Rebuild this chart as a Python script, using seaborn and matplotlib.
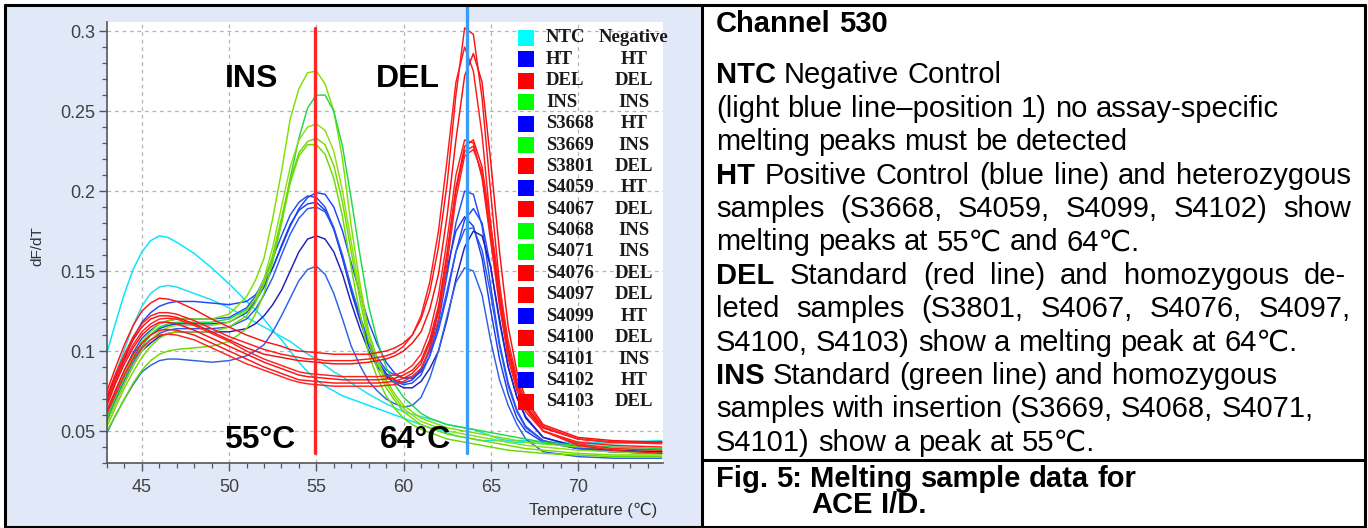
import matplotlib
matplotlib.use("Agg")
import matplotlib.pyplot as plt
import seaborn as sns
import pandas as pd
from matplotlib.patches import Rectangle
from matplotlib.lines import Line2D
from matplotlib.ticker import MultipleLocator, FormatStrFormatter

# ---------------- data ----------------
temperature = [43, 43.5, 44, 44.5, 45, 45.5, 46, 46.5, 47,
               48, 49, 50, 51, 51.5, 52, 52.5,
               53, 53.5, 54, 54.5, 55, 55.5, 56, 56.5, 57,
               57.5, 58, 58.5, 59, 59.5, 60, 60.5, 61, 61.5, 62,
               62.5, 63, 63.5, 64, 64.5, 65, 65.5, 66, 66.5,
               67, 68, 70, 72, 74.8]

ntc = [0.099, 0.118, 0.136, 0.151, 0.162, 0.169, 0.172, 0.171, 0.168,
       0.161, 0.152, 0.142, 0.131, 0.126, 0.120, 0.113,
       0.107, 0.100, 0.093, 0.087, 0.082, 0.078, 0.075, 0.072, 0.070,
       0.068, 0.066, 0.064, 0.062, 0.060, 0.058, 0.056, 0.054, 0.052, 0.051,
       0.049, 0.047, 0.046, 0.045, 0.044, 0.044, 0.044, 0.043, 0.043,
       0.043, 0.042, 0.042, 0.042, 0.043]
ntc_rep = [0.070, 0.086, 0.101, 0.116, 0.128, 0.136, 0.140, 0.141, 0.140,
           0.136, 0.132, 0.127, 0.121, 0.118, 0.115, 0.112,
           0.109, 0.106, 0.102, 0.098, 0.095, 0.091, 0.087, 0.084, 0.080,
           0.0765, 0.073, 0.070, 0.067, 0.0645, 0.062, 0.0605, 0.059, 0.0575, 0.056,
           0.054, 0.053, 0.052, 0.051, 0.049, 0.047, 0.045, 0.044, 0.044,
           0.044, 0.043, 0.043, 0.043, 0.044]

ht = [0.068, 0.082, 0.095, 0.108, 0.118, 0.124, 0.128, 0.130, 0.131,
      0.131, 0.130, 0.129, 0.131, 0.135, 0.142, 0.152,
      0.165, 0.178, 0.189, 0.196, 0.199, 0.198, 0.190, 0.175, 0.155,
      0.136, 0.118, 0.104, 0.093, 0.086, 0.083, 0.083, 0.087, 0.097, 0.113,
      0.135, 0.162, 0.182, 0.189, 0.180, 0.152, 0.118, 0.090, 0.071,
      0.059, 0.046, 0.040, 0.038, 0.037]
s3668 = [0.062, 0.075, 0.088, 0.099, 0.108, 0.113, 0.117, 0.119, 0.120,
         0.120, 0.120, 0.121, 0.127, 0.134, 0.145, 0.158,
         0.172, 0.185, 0.193, 0.197, 0.196, 0.190, 0.177, 0.158, 0.137,
         0.119, 0.103, 0.092, 0.085, 0.081, 0.079, 0.080, 0.085, 0.097, 0.118,
         0.148, 0.180, 0.200, 0.198, 0.178, 0.140, 0.105, 0.080, 0.063,
         0.053, 0.044, 0.039, 0.037, 0.036]
s4059 = [0.060, 0.073, 0.085, 0.096, 0.105, 0.110, 0.114, 0.116, 0.117,
         0.117, 0.117, 0.118, 0.124, 0.131, 0.140, 0.152,
         0.166, 0.179, 0.188, 0.192, 0.193, 0.188, 0.176, 0.158, 0.138,
         0.120, 0.104, 0.094, 0.086, 0.082, 0.080, 0.082, 0.088, 0.102, 0.125,
         0.152, 0.175, 0.184, 0.178, 0.158, 0.125, 0.095, 0.073, 0.058,
         0.050, 0.043, 0.039, 0.037, 0.036]
s4099 = [0.058, 0.070, 0.082, 0.093, 0.102, 0.107, 0.111, 0.113, 0.114,
         0.114, 0.114, 0.115, 0.120, 0.126, 0.135, 0.146,
         0.160, 0.173, 0.183, 0.189, 0.190, 0.187, 0.177, 0.160, 0.140,
         0.122, 0.106, 0.096, 0.088, 0.085, 0.083, 0.084, 0.089, 0.100, 0.115,
         0.138, 0.162, 0.176, 0.177, 0.163, 0.135, 0.103, 0.078, 0.062,
         0.052, 0.044, 0.039, 0.037, 0.036]
s4102 = [0.056, 0.068, 0.080, 0.091, 0.100, 0.105, 0.109, 0.111, 0.112,
         0.112, 0.112, 0.112, 0.114, 0.117, 0.122, 0.129,
         0.138, 0.150, 0.162, 0.170, 0.172, 0.170, 0.162, 0.148, 0.130,
         0.114, 0.100, 0.090, 0.084, 0.080, 0.077, 0.077, 0.081, 0.089, 0.100,
         0.120, 0.145, 0.165, 0.175, 0.172, 0.152, 0.120, 0.090, 0.071,
         0.058, 0.046, 0.040, 0.038, 0.037]
ht_rep = [0.049, 0.060, 0.070, 0.079, 0.087, 0.091, 0.094, 0.095, 0.095,
          0.094, 0.093, 0.094, 0.097, 0.100, 0.104, 0.112,
          0.122, 0.133, 0.144, 0.151, 0.153, 0.148, 0.136, 0.120, 0.103,
          0.091, 0.081, 0.075, 0.070, 0.067, 0.065, 0.066, 0.071, 0.083, 0.100,
          0.122, 0.143, 0.152, 0.150, 0.135, 0.106, 0.082, 0.066, 0.054,
          0.045, 0.037, 0.034, 0.033, 0.033]

ins = [0.060, 0.073, 0.086, 0.097, 0.106, 0.112, 0.117, 0.119, 0.120,
       0.120, 0.120, 0.123, 0.134, 0.144, 0.158, 0.183,
       0.212, 0.245, 0.264, 0.274, 0.275, 0.267, 0.250, 0.220, 0.178,
       0.142, 0.112, 0.095, 0.082, 0.073, 0.066, 0.062, 0.058, 0.056, 0.054,
       0.052, 0.051, 0.050, 0.049, 0.048, 0.047, 0.046, 0.045, 0.044,
       0.043, 0.042, 0.040, 0.039, 0.038]
s3669 = [0.058, 0.071, 0.083, 0.094, 0.103, 0.110, 0.115, 0.117, 0.118,
         0.118, 0.118, 0.120, 0.126, 0.132, 0.142, 0.158,
         0.180, 0.208, 0.233, 0.252, 0.260, 0.260, 0.250, 0.228, 0.195,
         0.160, 0.128, 0.106, 0.090, 0.079, 0.071, 0.066, 0.061, 0.058, 0.056,
         0.054, 0.053, 0.052, 0.051, 0.050, 0.049, 0.048, 0.047, 0.046,
         0.045, 0.043, 0.041, 0.040, 0.039]
s4068 = [0.055, 0.068, 0.080, 0.091, 0.100, 0.107, 0.112, 0.115, 0.116,
         0.116, 0.116, 0.118, 0.125, 0.133, 0.145, 0.165,
         0.190, 0.215, 0.232, 0.240, 0.242, 0.238, 0.225, 0.200, 0.168,
         0.137, 0.110, 0.093, 0.080, 0.071, 0.064, 0.060, 0.056, 0.054, 0.052,
         0.050, 0.049, 0.048, 0.047, 0.046, 0.045, 0.044, 0.043, 0.042,
         0.041, 0.040, 0.038, 0.037, 0.036]
s4071 = [0.053, 0.065, 0.077, 0.087, 0.096, 0.103, 0.108, 0.111, 0.112,
         0.112, 0.112, 0.115, 0.122, 0.130, 0.142, 0.160,
         0.183, 0.207, 0.224, 0.231, 0.233, 0.229, 0.216, 0.193, 0.162,
         0.132, 0.106, 0.089, 0.077, 0.069, 0.062, 0.058, 0.054, 0.052, 0.050,
         0.048, 0.047, 0.046, 0.045, 0.044, 0.043, 0.042, 0.041, 0.040,
         0.039, 0.038, 0.036, 0.035, 0.035]
s4101 = [0.050, 0.060, 0.070, 0.080, 0.088, 0.094, 0.098, 0.100, 0.101,
         0.102, 0.103, 0.106, 0.114, 0.123, 0.136, 0.156,
         0.180, 0.205, 0.222, 0.229, 0.229, 0.223, 0.208, 0.184, 0.152,
         0.123, 0.098, 0.083, 0.072, 0.064, 0.058, 0.054, 0.051, 0.049, 0.047,
         0.045, 0.044, 0.043, 0.042, 0.041, 0.040, 0.039, 0.038, 0.0375,
         0.037, 0.036, 0.035, 0.034, 0.034]

dele = [0.075, 0.090, 0.104, 0.116, 0.125, 0.130, 0.133, 0.1325, 0.131,
        0.126, 0.120, 0.115, 0.110, 0.108, 0.106, 0.1045,
        0.103, 0.101, 0.100, 0.0995, 0.099, 0.0985, 0.098, 0.098, 0.098,
        0.098, 0.098, 0.099, 0.100, 0.102, 0.105, 0.110, 0.120, 0.137, 0.165,
        0.205, 0.260, 0.302, 0.298, 0.258, 0.198, 0.142, 0.102, 0.080,
        0.065, 0.052, 0.045, 0.043, 0.043]
s3801 = [0.072, 0.086, 0.098, 0.109, 0.117, 0.122, 0.124, 0.124, 0.123,
         0.119, 0.114, 0.109, 0.105, 0.103, 0.101, 0.0995,
         0.098, 0.097, 0.096, 0.095, 0.095, 0.094, 0.094, 0.094, 0.094,
         0.0945, 0.095, 0.096, 0.097, 0.099, 0.103, 0.110, 0.122, 0.143, 0.175,
         0.220, 0.268, 0.290, 0.275, 0.235, 0.178, 0.130, 0.095, 0.075,
         0.062, 0.050, 0.043, 0.041, 0.040]
s4067 = [0.070, 0.084, 0.096, 0.107, 0.115, 0.120, 0.122, 0.122, 0.121,
         0.117, 0.112, 0.107, 0.102, 0.100, 0.098, 0.097,
         0.096, 0.095, 0.094, 0.0935, 0.093, 0.0925, 0.092, 0.092, 0.092,
         0.0925, 0.093, 0.094, 0.095, 0.097, 0.100, 0.105, 0.112, 0.126, 0.148,
         0.185, 0.232, 0.272, 0.286, 0.268, 0.218, 0.162, 0.115, 0.087,
         0.070, 0.054, 0.046, 0.044, 0.043]
s4076 = [0.068, 0.082, 0.094, 0.104, 0.112, 0.117, 0.120, 0.1205, 0.120,
         0.116, 0.111, 0.106, 0.100, 0.0975, 0.095, 0.093,
         0.091, 0.089, 0.087, 0.086, 0.0855, 0.085, 0.0845, 0.084, 0.084,
         0.084, 0.084, 0.084, 0.0845, 0.085, 0.087, 0.091, 0.098, 0.112, 0.135,
         0.170, 0.210, 0.232, 0.230, 0.208, 0.168, 0.128, 0.097, 0.077,
         0.064, 0.050, 0.042, 0.039, 0.038]
s4097 = [0.066, 0.080, 0.092, 0.102, 0.110, 0.115, 0.118, 0.118, 0.117,
         0.113, 0.108, 0.103, 0.098, 0.0955, 0.093, 0.091,
         0.089, 0.087, 0.085, 0.084, 0.0835, 0.083, 0.0825, 0.082, 0.082,
         0.082, 0.082, 0.082, 0.0825, 0.083, 0.085, 0.088, 0.094, 0.107, 0.128,
         0.162, 0.202, 0.228, 0.232, 0.215, 0.178, 0.136, 0.102, 0.080,
         0.066, 0.052, 0.045, 0.043, 0.043]
s4100 = [0.063, 0.076, 0.088, 0.098, 0.105, 0.110, 0.113, 0.1135, 0.113,
         0.110, 0.105, 0.100, 0.095, 0.0925, 0.090, 0.088,
         0.086, 0.084, 0.082, 0.0815, 0.081, 0.0805, 0.080, 0.080, 0.080,
         0.080, 0.080, 0.080, 0.0805, 0.081, 0.083, 0.086, 0.092, 0.105, 0.125,
         0.160, 0.200, 0.225, 0.228, 0.210, 0.172, 0.132, 0.100, 0.079,
         0.065, 0.050, 0.041, 0.038, 0.036]
s4103 = [0.061, 0.073, 0.085, 0.095, 0.102, 0.107, 0.110, 0.1105, 0.110,
         0.107, 0.102, 0.097, 0.092, 0.090, 0.088, 0.086,
         0.084, 0.082, 0.0805, 0.0795, 0.079, 0.0785, 0.078, 0.078, 0.078,
         0.078, 0.078, 0.078, 0.0785, 0.079, 0.081, 0.084, 0.089, 0.101, 0.120,
         0.155, 0.195, 0.222, 0.226, 0.212, 0.178, 0.140, 0.106, 0.083,
         0.068, 0.053, 0.045, 0.043, 0.042]

legend_names = ['NTC', 'HT', 'DEL', 'INS', 'S3668', 'S3669', 'S3801', 'S4059', 'S4067',
                'S4068', 'S4071', 'S4076', 'S4097', 'S4099', 'S4100', 'S4101', 'S4102', 'S4103']
legend_types = ['Negative', 'HT', 'DEL', 'INS', 'HT', 'INS', 'DEL', 'HT', 'DEL',
                'INS', 'INS', 'DEL', 'DEL', 'HT', 'DEL', 'INS', 'HT', 'DEL']
marker_temps = [54.94, 63.66]
x_ticks = [45, 50, 55, 60, 65, 70]

# ---------------- assemble ----------------
curves = {
    'NTC': ntc, 'NTC rep': ntc_rep,
    'HT': ht, 'S3668': s3668, 'S4059': s4059, 'S4099': s4099, 'S4102': s4102, 'HT rep': ht_rep,
    'INS': ins, 'S3669': s3669, 'S4068': s4068, 'S4071': s4071, 'S4101': s4101,
    'DEL': dele, 'S3801': s3801, 'S4067': s4067, 'S4076': s4076, 'S4097': s4097,
    'S4100': s4100, 'S4103': s4103,
}
for k, v in curves.items():
    if len(v) != len(temperature):
        raise ValueError(f'{k}: {len(v)} values for {len(temperature)} temperatures')

line_colors = {
    'NTC': '#00e6ff', 'NTC rep': '#19dff2',
    'HT': '#1f45ff', 'S3668': '#2350f2', 'S4059': '#1b3ce8', 'S4099': '#2a58f5',
    'S4102': '#2020b8', 'HT rep': '#2c62e6',
    'INS': '#7ee000', 'S3669': '#20d84c', 'S4068': '#8ae014', 'S4071': '#78d800', 'S4101': '#66dc00',
    'DEL': '#ff1414', 'S3801': '#ff1a1a', 'S4067': '#f51010', 'S4076': '#ff2020',
    'S4097': '#ff1010', 'S4100': '#f81818', 'S4103': '#ff2222',
}
type_colors = {'Negative': '#00ffff', 'HT': '#0000ff', 'DEL': '#ff0000', 'INS': '#00ff00'}

rows = [(name, t, v) for name, vals in curves.items() for t, v in zip(temperature, vals)]
df = pd.DataFrame(rows, columns=['curve', 'Temperature', 'dFdT'])

# ---------------- figure ----------------
sns.set_style('ticks')
plt.rcParams['font.family'] = ['Liberation Sans', 'DejaVu Sans']

W, H = 1368, 528
fig = plt.figure(figsize=(W / 100, H / 100), dpi=100, facecolor='white')


def fx(x):
    return x / W


def fy(y):
    return 1 - y / H


# light blue chart panel
fig.patches.append(Rectangle((fx(6), 0), fx(701) - fx(6), fy(6), transform=fig.transFigure,
                             facecolor='#e1e9f9', edgecolor='none', zorder=-10))

ax = fig.add_axes([fx(107), fy(463), fx(663) - fx(107), fy(22) - fy(463)])
ax.set_zorder(1)
ax.set_facecolor('white')
ax.set_axisbelow(True)

sns.lineplot(data=df, x='Temperature', y='dFdT', hue='curve', hue_order=list(curves.keys()),
             palette=line_colors, units='curve', estimator=None, sort=False,
             lw=1.05, legend=False, ax=ax)

ax.set_xlim(43, 74.87)
ax.set_ylim(0.03, 0.3057)
ax.set_xlabel('')
ax.set_ylabel('')
ax.set_xticks(x_ticks)
ax.xaxis.set_minor_locator(MultipleLocator(1))
ax.yaxis.set_major_locator(MultipleLocator(0.05))
ax.yaxis.set_minor_locator(MultipleLocator(0.01))
ax.yaxis.set_major_formatter(FormatStrFormatter('%g'))
ax.grid(True, which='major', linestyle=(0, (3, 3)), color='#b4b4b4', lw=0.9)
for s in ['top', 'right']:
    ax.spines[s].set_visible(False)
for s in ['left', 'bottom']:
    ax.spines[s].set_color('#555555')
    ax.spines[s].set_linewidth(1.2)
ax.tick_params(which='major', length=5.5, width=1, color='#555555', labelsize=13,
               labelcolor='#404040')
ax.tick_params(which='minor', length=3.5, width=0.9, color='#555555')
ax.tick_params(axis='y', pad=3)
ax.tick_params(axis='x', pad=6)

# genotype marker lines
ymin_frac = (0.036 - 0.03) / (0.3057 - 0.03)
ax.axvline(marker_temps[0], ymin=ymin_frac, ymax=(0.302 - 0.03) / (0.3057 - 0.03),
           color='#ff2626', lw=2.4, zorder=5)
ax.axvline(marker_temps[1], ymin=ymin_frac, ymax=(463 - 7) / (463 - 22),
           color='#3a9cf2', lw=2.4, zorder=5, clip_on=False)

# big annotations
big = dict(fontsize=23, fontweight='bold', ha='center', va='center', color='black', zorder=6)
ax.text(51.3, 0.27, 'INS', **big)
ax.text(60.25, 0.27, 'DEL', **big)
ax.text(51.75, 0.0445, '55°C', **big)
ax.text(60.7, 0.0445, '64°C', **big)

# axis labels
fig.text(fx(37), fy(246), 'dF/dT', rotation=90, ha='center', va='center', fontsize=11,
         color='#303030')
fig.text(fx(593), fy(510), 'Temperature (℃)', ha='center', va='center', fontsize=12,
         color='#303030')

# legend (squares + two text columns)
for i, (name, gt) in enumerate(zip(legend_names, legend_types)):
    yc = 38 + 21.4 * i
    fig.patches.append(Rectangle((fx(518), fy(yc + 8)), fx(534) - fx(518), fy(yc - 8) - fy(yc + 8),
                                 transform=fig.transFigure, facecolor=type_colors[gt],
                                 edgecolor='none', zorder=6))
    fig.text(fx(546), fy(yc), name, ha='left', va='center', fontsize=13.5,
             family='Liberation Serif', fontweight='bold', color='#1a1a1a', zorder=7)
    fig.text(fx(634), fy(yc), gt, ha='center', va='center', fontsize=13.5,
             family='Liberation Serif', fontweight='bold', color='#1a1a1a', zorder=7)

# frame lines
def fline(xs, ys, lw=2.2):
    fig.add_artist(Line2D([fx(x) for x in xs], [fy(y) for y in ys], transform=fig.transFigure,
                          color='black', lw=lw, solid_capstyle='butt', zorder=8))


fline([4, 1366], [5, 5])
fline([5, 5], [4, 528])
fline([702, 702], [4, 528])
fline([1365, 1365], [4, 528])
fline([702, 1365], [460, 460])
fline([4, 1366], [527, 527])

# ---------------- right text panel ----------------
FS = 21
FAM = ['Liberation Sans', 'DejaVu Sans']
fig.canvas.draw()
renderer = fig.canvas.get_renderer()


def twidth(s, bold):
    t = fig.text(0, 0, s, fontsize=FS, family=FAM, fontweight='bold' if bold else 'normal')
    w = t.get_window_extent(renderer).width
    t.remove()
    return w


space_w = twidth('a a', False) - twidth('aa', False)


def draw_line(segments, y_base, x0=716, x1=None):
    words = []
    for text, bold in segments:
        for w in text.split(' '):
            words.append((w, bold))
    widths = [twidth(w, b) for w, b in words]
    if x1 is None or len(words) < 2:
        gap = space_w
    else:
        gap = (x1 - x0 - sum(widths)) / (len(words) - 1)
    x = x0
    for (w, b), wd in zip(words, widths):
        fig.text(fx(x), fy(y_base), w, fontsize=FS, family=FAM,
                 fontweight='bold' if b else 'normal', ha='left', va='baseline', color='black')
        x += wd + gap


B, R = True, False
draw_line([('Channel 530', B)], 32.3)
draw_line([('NTC', B), ('Negative Control', R)], 83.3)
draw_line([('(light blue line–position 1) no assay-specific', R)], 116.7)
draw_line([('melting peaks must be detected', R)], 150.0)
draw_line([('HT', B), ('Positive Control (blue line) and heterozygous', R)], 183.5, x1=1351)
draw_line([('samples (S3668, S4059, S4099, S4102) show', R)], 217.0, x1=1351)
draw_line([('melting peaks at 55℃ and 64℃.', R)], 250.4)
draw_line([('DEL', B), ('Standard (red line) and homozygous de-', R)], 284.0, x1=1346)
draw_line([('leted samples (S3801, S4067, S4076, S4097,', R)], 317.3, x1=1351)
draw_line([('S4100, S4103) show a melting peak at 64℃.', R)], 350.6)
draw_line([('INS', B), ('Standard (green line) and homozygous', R)], 384.0)
draw_line([('samples with insertion (S3669, S4068, S4071,', R)], 417.3)
draw_line([('S4101) show a peak at 55℃.', R)], 450.6)
draw_line([('Fig. 5: Melting sample data for', B)], 486.7)
draw_line([('ACE I/D.', B)], 513.0, x0=811)

fig.savefig('out.png', dpi=100, facecolor='white')
